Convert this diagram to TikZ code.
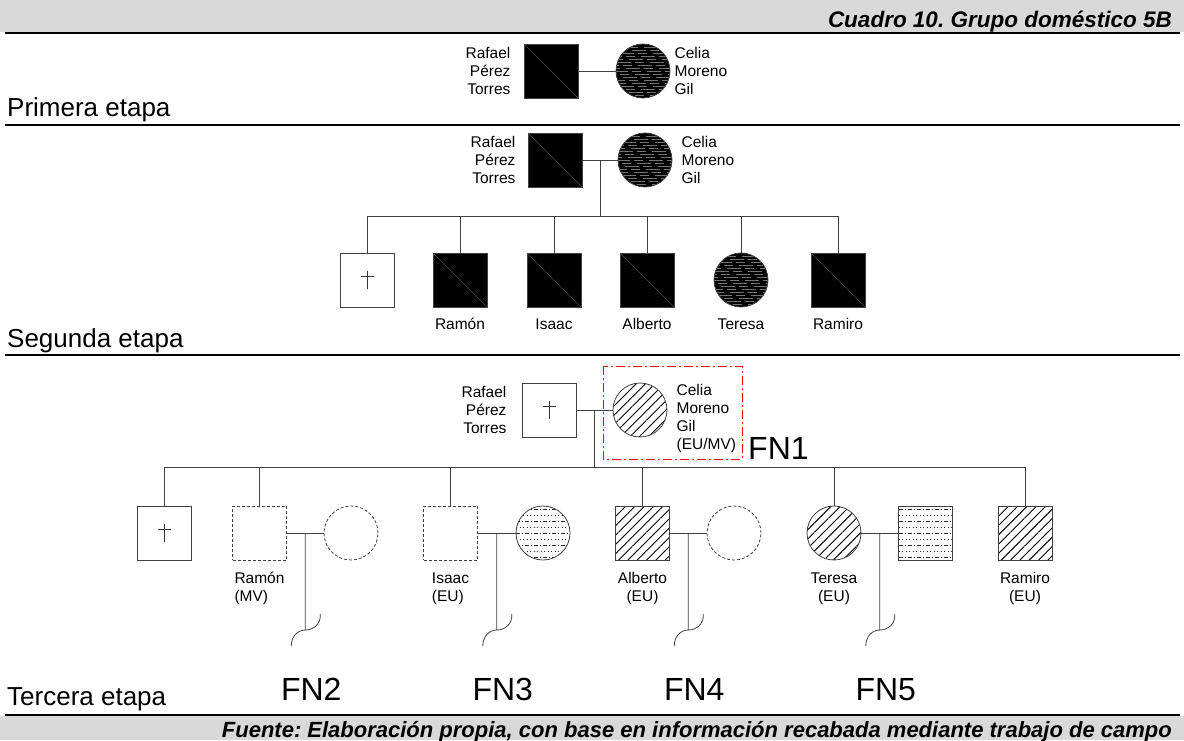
\documentclass[tikz,border=0pt]{standalone}
\usepackage{fontspec}
\setmainfont{Liberation Sans}
\usetikzlibrary{positioning,calc,patterns.meta}
\frenchspacing

\newcommand{\lblfont}{\fontsize{15.5}{18}\selectfont}
\newcommand{\stagefont}{\fontsize{26}{30}\selectfont}
\newcommand{\fnfont}{\fontsize{32}{36}\selectfont}
\newcommand{\headfont}{\fontsize{22.5}{24}\selectfont\bfseries\itshape}
\newcommand{\footfont}{\fontsize{22}{24}\selectfont\bfseries\itshape}

\tikzset{
  line/.style={draw=black!75,line width=.8pt},
  sep/.style={line width=2.4pt},
  male/.style={line,minimum size=54pt,inner sep=0pt},
  female/.style={male,circle},
  unknown/.style={dash pattern=on 3pt off 2pt},
  blackbox/.style={fill=black,path picture={
      \draw[gray,line width=.3pt] (path picture bounding box.north west) -- (path picture bounding box.south east);}},
  darkdisc/.style={fill=black,path picture={
      \foreach \k in {-24,-21,...,24}{
        \pgfmathtruncatemacro\ph{\k*7+200}
        \draw[black!55,line width=.35pt,dash pattern=on 14pt off 4pt on 9pt off 6pt,dash phase=\ph pt]
          ([yshift=\k pt]path picture bounding box.west) -- ++(60,0);}}},
  hatched/.style={pattern={Lines[angle=45,distance=6.6pt,line width=.9pt]}},
  speckled/.style={path picture={
      \foreach \k in {-24,-12,...,24}
        \draw[black!85,line width=.6pt,dash pattern=on 4pt off 2pt on 1pt off 2pt]
          ([yshift=\k pt]path picture bounding box.west) -- ++(60,0);
      \foreach \k in {-18,-6,...,18}
        \draw[black!85,line width=.6pt,dash pattern=on 1pt off 2.5pt]
          ([yshift=\k pt]path picture bounding box.west) -- ++(60,0);}},
  lbl/.style={font=\lblfont,inner sep=0pt},
  stage/.style={font=\stagefont,anchor=base west,inner sep=0pt},
  fnlbl/.style={font=\fnfont,anchor=base,inner sep=0pt},
  fnbox/.style={draw=red,line width=.8pt,dash pattern=on 9pt off 3pt on 2pt off 3pt},
  dagger/.pic={\draw[black!80,line width=.6pt] (0,-9) -- (0,9) (-6.5,-4) -- (6.5,-4);}
}

\begin{document}
\begin{tikzpicture}[x=1pt,y=-1pt]
  \useasboundingbox (0,0) rectangle (1184,740);

  % head and foot bands
  \fill[black!15] (0,0) rectangle (1184,32);
  \node[font=\headfont,anchor=base east,inner sep=0pt] (title) at (1172,27) {Cuadro 10. Grupo doméstico 5B};
  \draw[sep] (5,33) -- (1180,33);
  \fill[black!15] (0,716) rectangle (1184,740);
  \draw[sep] (5,715) -- (1180,715);
  \node[font=\footfont,anchor=base east,inner sep=0pt] (source) at (1172,737) {Fuente: Elaboración propia, con base en información recabada mediante trabajo de campo};

  % primera etapa
  \node[male,blackbox] (rafA) at (551,71) {};
  \node[female,darkdisc] (celA) at (643,71) {};
  \node[lbl,align=right,left=13pt of rafA] (rafAtxt) {Rafael\\Pérez\\Torres};
  \node[lbl,align=left,right=4pt of celA] (celAtxt) {Celia\\Moreno\\Gil};
  \draw[line] (rafA) -- (celA);
  \node[stage] (st1) at (7,116) {Primera etapa};
  \draw[sep] (5,125) -- (1180,125);

  % segunda etapa
  \node[male,blackbox] (rafB) at (555,160) {};
  \node[female,darkdisc] (celB) at (645,160) {};
  \node[lbl,align=right,left=12pt of rafB] (rafBtxt) {Rafael\\Pérez\\Torres};
  \node[lbl,align=left,right=9pt of celB] (celBtxt) {Celia\\Moreno\\Gil};
  \draw[line] (rafB) -- (celB);
  \coordinate (dropB) at ($(rafB.east)!.5!(celB.west)$);
  \coordinate (sibB) at (0,216);
  \node[male] (deadB) at (367,280) {};
  \pic at (deadB) {dagger};
  \node[male,blackbox] (ramB) at (460,280) {};
  \node[male,blackbox] (isaB) at (554,280) {};
  \node[male,blackbox] (albB) at (647,280) {};
  \node[female,darkdisc] (terB) at (741,280) {};
  \node[male,blackbox] (ramiB) at (838,280) {};
  \draw[line] (dropB) -- (dropB |- sibB);
  \draw[line] (deadB.north |- sibB) -- (ramiB.north |- sibB);
  \foreach \c in {deadB,ramB,isaB,albB,terB,ramiB}
    \draw[line] (\c.north |- sibB) -- (\c.north);
  \node[lbl,anchor=base] at ($(ramB.south)+(0,22)$) {Ramón};
  \node[lbl,anchor=base] at ($(isaB.south)+(0,22)$) {Isaac};
  \node[lbl,anchor=base] at ($(albB.south)+(0,22)$) {Alberto};
  \node[lbl,anchor=base] at ($(terB.south)+(0,22)$) {Teresa};
  \node[lbl,anchor=base] at ($(ramiB.south)+(0,22)$) {Ramiro};
  \node[stage] (st2) at (7,347) {Segunda etapa};
  \draw[sep] (5,355) -- (1180,355);

  % tercera etapa
  \node[male] (rafC) at (549,410) {};
  \pic at (rafC) {dagger};
  \node[female,hatched] (celC) at (640,410) {};
  \node[lbl,align=right,left=15pt of rafC] (rafCtxt) {Rafael\\Pérez\\Torres};
  \node[lbl,align=left,anchor=west] (celCtxt) at ($(celC.east)+(9,8)$) {Celia\\Moreno\\Gil\\(EU/MV)};
  \draw[fnbox] (603,366) rectangle (742,459);
  \node[fnlbl,anchor=base west] (fn1) at (748,459) {FN1};
  \draw[line] (rafC) -- (celC);
  \coordinate (dropC) at ($(rafC.east)!.5!(celC.west)$);
  \coordinate (sibC) at (0,467);
  \draw[line] (dropC) -- (dropC |- sibC);

  \node[male] (deadC) at (164,533) {};
  \pic at (deadC) {dagger};
  \node[male,unknown] (ramC) at (259.5,533) {};
  \node[female,unknown] (ramW) at (351,533) {};
  \node[male,unknown] (isaC) at (450.5,533) {};
  \node[female,speckled] (isaW) at (543,533) {};
  \node[male,hatched] (albC) at (642.5,533) {};
  \node[female,unknown] (albW) at (734,533) {};
  \node[female,hatched] (terC) at (834,533) {};
  \node[male,speckled] (terH) at (925.5,533) {};
  \node[male,hatched] (ramiC) at (1025,533) {};
  \draw[line] (deadC.north |- sibC) -- (ramiC.north |- sibC);
  \foreach \c in {deadC,ramC,isaC,albC,terC,ramiC}
    \draw[line] (\c.north |- sibC) -- (\c.north);

  % base of these nodes = last line
  \node[lbl,align=left,anchor=base] at ($(ramC.south)+(0,41)$) {Ramón\\(MV)};
  \node[lbl,align=left,anchor=base] at ($(isaC.south)+(0,41)$) {Isaac\\(EU)};
  \node[lbl,align=center,anchor=base] at ($(albC.south)+(0,41)$) {Alberto\\(EU)};
  \node[lbl,align=center,anchor=base] at ($(terC.south)+(0,41)$) {Teresa\\(EU)};
  \node[lbl,align=center,anchor=base] at ($(ramiC.south)+(0,41)$) {Ramiro\\(EU)};

  % new households
  \foreach \h/\w/\n in {ramC/ramW/2,isaC/isaW/3,albC/albW/4,terC/terH/5}{
    \draw[line] (\h) -- (\w);
    \coordinate (fam\n) at ($(\h.east)!.5!(\w.west)$);
    \draw[line] (fam\n) -- ++(0,97) coordinate (end\n)
      .. controls +(8,0) and +(1,10) .. ++(15,-16);
    \draw[line] (end\n) .. controls +(-8,0) and +(0,-9) .. ++(-14,16);
    \node[fnlbl] (fn\n) at ($(end\n)+(6,70)$) {FN\n};
  }
  \node[stage] (st3) at (7,705) {Tercera etapa};
\end{tikzpicture}
\end{document}
